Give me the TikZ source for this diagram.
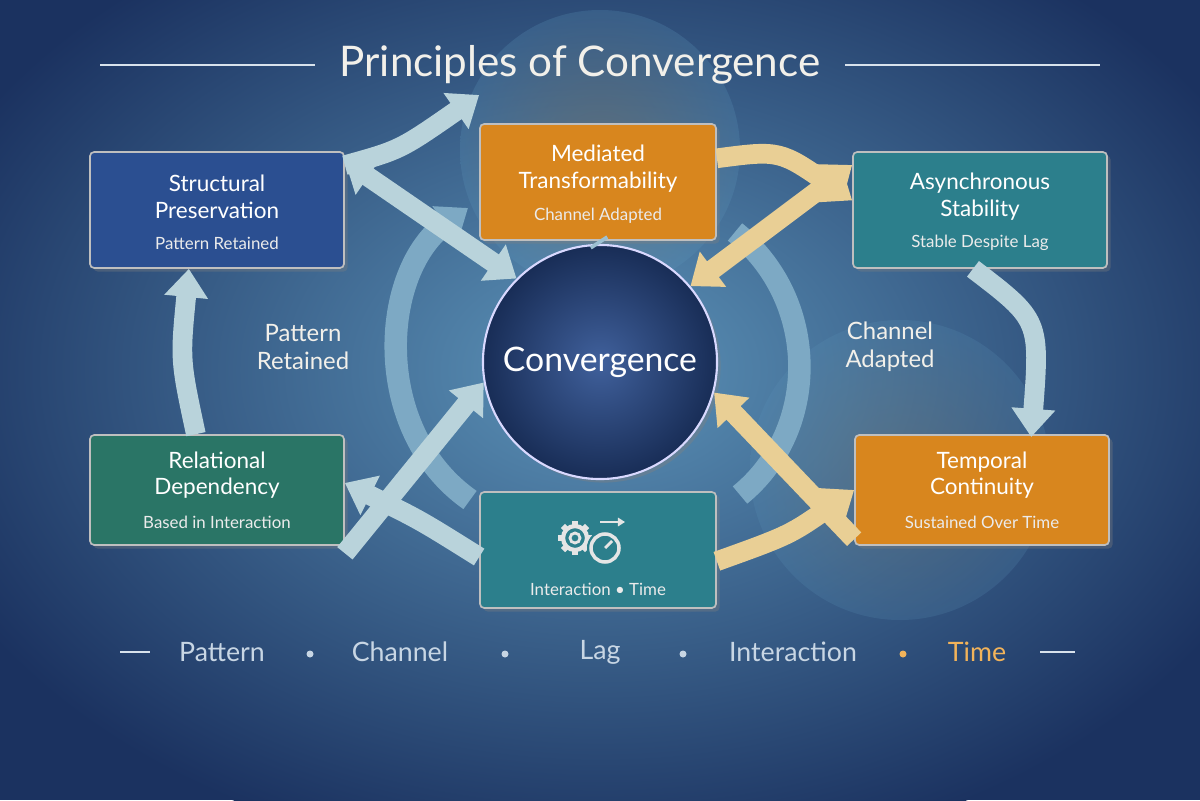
\documentclass[tikz,border=0pt]{standalone}
\usepackage{fontspec}
\setmainfont{Lato}
\usetikzlibrary{arrows.meta,shadows}
\definecolor{bgdark}{HTML}{1B3260}
\definecolor{bgmid}{HTML}{2E5F93}
\definecolor{bgglow}{HTML}{5C93B8}
\definecolor{bluebox}{HTML}{2B4F91}
\definecolor{orangebox}{HTML}{D8861E}
\definecolor{tealbox}{HTML}{2C7F8C}
\definecolor{greenbox}{HTML}{2A7566}
\definecolor{arrowpale}{HTML}{B9D3DB}
\definecolor{arrowyel}{HTML}{E9CF95}
\definecolor{titletxt}{HTML}{F2F0EA}
\definecolor{rowtxt}{HTML}{C8D6E4}
\definecolor{timeor}{HTML}{F2B35A}
\begin{document}
\begin{tikzpicture}[x=0.025cm,y=-0.025cm,
 box/.style={draw=white!75!black,line width=1.2pt,rounded corners=3pt,minimum width=6.35cm,minimum height=2.9cm,drop shadow={opacity=0.35}},
 bt/.style={text=white,font=\fontsize{16}{19}\selectfont,align=center},
 st/.style={text=white!92!black,font=\fontsize{12}{14}\selectfont},
 fat/.style={line width=14pt,-{Triangle[length=20pt,width=30pt]}},
 fatd/.style={line width=14pt,{Triangle[length=20pt,width=30pt]}-{Triangle[length=20pt,width=30pt]}},
 pale/.style={draw=arrowpale},
 yel/.style={draw=arrowyel},
 row/.style={text=rowtxt,font=\fontsize{19}{22}\selectfont}]
\useasboundingbox (0,0) rectangle (1200,800);
\clip (0,0) rectangle (1200,800);
% background
\fill[bgdark] (0,0) rectangle (1200,800);
\shade[inner color=bgglow,outer color=bgdark] (600,370) ellipse (720 and 500);
\shade[inner color=orangebox!70!bgglow,outer color=bgglow,opacity=0.25] (600,150) circle (140);
\shade[inner color=orangebox!60!bgglow,outer color=bgglow,opacity=0.2] (900,470) circle (150);
% title
\node[text=titletxt,font=\fontsize{30}{34}\selectfont] (title) at (580,65) {Principles of Convergence};
\coordinate (tl1) at (100,65); \coordinate (tl2) at (315,65);
\coordinate (tr1) at (845,65); \coordinate (tr2) at (1100,65);
\draw[rowtxt!70,line width=1pt] (tl1) -- (tl2) (tr1) -- (tr2);
% faint orbit arcs
\coordinate (o1) at (470,500); \coordinate (o2) at (468,208);
\coordinate (o3) at (735,232); \coordinate (o4) at (740,495);
\draw[draw=arrowpale!35!bgglow,line width=16pt,-{Triangle[length=20pt,width=30pt]}] (o1) .. controls (370,430) and (380,270) .. (o2);
\draw[draw=arrowpale!35!bgglow,line width=16pt] (o3) .. controls (820,300) and (820,430) .. (o4);
% central circle
\node[circle,minimum size=5.85cm,draw=white!85!blue,line width=1.5pt,inner color=bluebox!90!white,outer color=bgdark!90!black,drop shadow={opacity=0.4}] (conv) at (600,362) {};
\node[text=white,font=\fontsize{24}{28}\selectfont] at (conv) {Convergence};
% boxes
\node[box,fill=bluebox] (sp) at (217,210) {};
\node[bt] at (217,197) {Structural\\Preservation};
\node[st] at (217,243) {Pattern Retained};
\node[box,fill=orangebox,minimum width=5.9cm] (mt) at (598,182) {};
\node[bt] at (598,169) {Mediated\\Transformability};
\node[st] at (598,216) {Channel Adapted};
\node[box,fill=tealbox] (as) at (980,210) {};
\node[bt] at (980,197) {Asynchronous\\Stability};
\node[st] at (980,243) {Stable Despite Lag};
\node[box,fill=greenbox,minimum height=2.75cm] (rd) at (217,490) {};
\node[bt] at (217,475) {Relational\\Dependency};
\node[st] at (217,522) {Based in Interaction};
\node[box,fill=orangebox,minimum height=2.75cm] (tc) at (982,490) {};
\node[bt] at (982,475) {Temporal\\Continuity};
\node[st] at (982,522) {Sustained Over Time};
\node[box,fill=tealbox,minimum width=5.9cm] (it) at (598,550) {};
\node[st] at (598,589) {Interaction \textbullet{} Time};
% icon
\begin{scope}[shift={(575,538)}]
\foreach \a in {0,45,...,315}
  \fill[white!90!black,rotate=\a] (-3,-17) rectangle (3,-11);
\draw[white!90!black,line width=3pt] (0,0) circle (12);
\draw[white!90!black,line width=2pt] (0,0) circle (5);
\end{scope}
\fill[tealbox] (605,548) circle (18);
\draw[white!90!black,line width=2.5pt] (605,548) circle (14);
\draw[white!90!black,line width=2pt] (605,548) -- (612,541);
\draw[white!90!black,line width=2pt,-{Triangle[length=5pt,width=6pt]}] (600,522) -- (625,522);
% arrows between boxes
\draw[fat,pale] ([yshift=-10]sp.north east) .. controls (400,150) .. ([yshift=20]mt.north west);
\draw[fat,yel] ([yshift=-25]mt.north east) .. controls (780,150) .. ([yshift=-35]as.north west);
\draw[fat,pale] ([xshift=-5]as.south) .. controls (1040,320) .. ([xshift=35,yshift=-2]tc.north);
\draw[fat,yel] ([yshift=-8]it.east) .. controls (790,535) .. ([yshift=0]tc.west);
\draw[fat,pale] ([yshift=-5]it.west) .. controls (420,520) .. ([yshift=5]rd.east);
\draw[fat,pale] ([xshift=-15]rd.north) .. controls (180,360) .. ([xshift=-20]sp.south);
% arrows with convergence
\draw[fatd,pale] ([yshift=35]sp.east) -- (conv.135);
\draw[fatd,yel] ([yshift=32]as.west) -- (conv.40);
\draw[fat,pale] ([yshift=-45]rd.east) -- (conv.190);
\draw[fat,yel] ([yshift=-35]tc.west) -- (conv.-15);
\draw[draw=arrowpale!70!bgglow,line width=14pt] (mt.south) -- (conv.north);
% side labels
\node[text=titletxt,font=\fontsize{17}{20}\selectfont,align=center] (pl) at (303,347) {Pattern\\Retained};
\node[text=titletxt,font=\fontsize{17}{20}\selectfont,align=center] (cl) at (890,347) {Channel\\Adapted};
% bottom row
\node[row] (w1) at (222,652) {Pattern};
\node[row] (w2) at (400,652) {Channel};
\node[row] (w3) at (600,652) {Lag};
\node[row] (w4) at (793,652) {Interaction};
\node[row,text=timeor] (w5) at (977,652) {Time};
\foreach \x in {310,505,683} \fill[rowtxt] (\x,654) circle (3.5);
\fill[timeor] (903,654) circle (3.5);
\coordinate (bl1) at (120,652); \coordinate (bl2) at (150,652);
\coordinate (br1) at (1040,652); \coordinate (br2) at (1075,652);
\draw[rowtxt!70,line width=1pt] (bl1) -- (bl2) (br1) -- (br2);
\end{tikzpicture}
\end{document}
